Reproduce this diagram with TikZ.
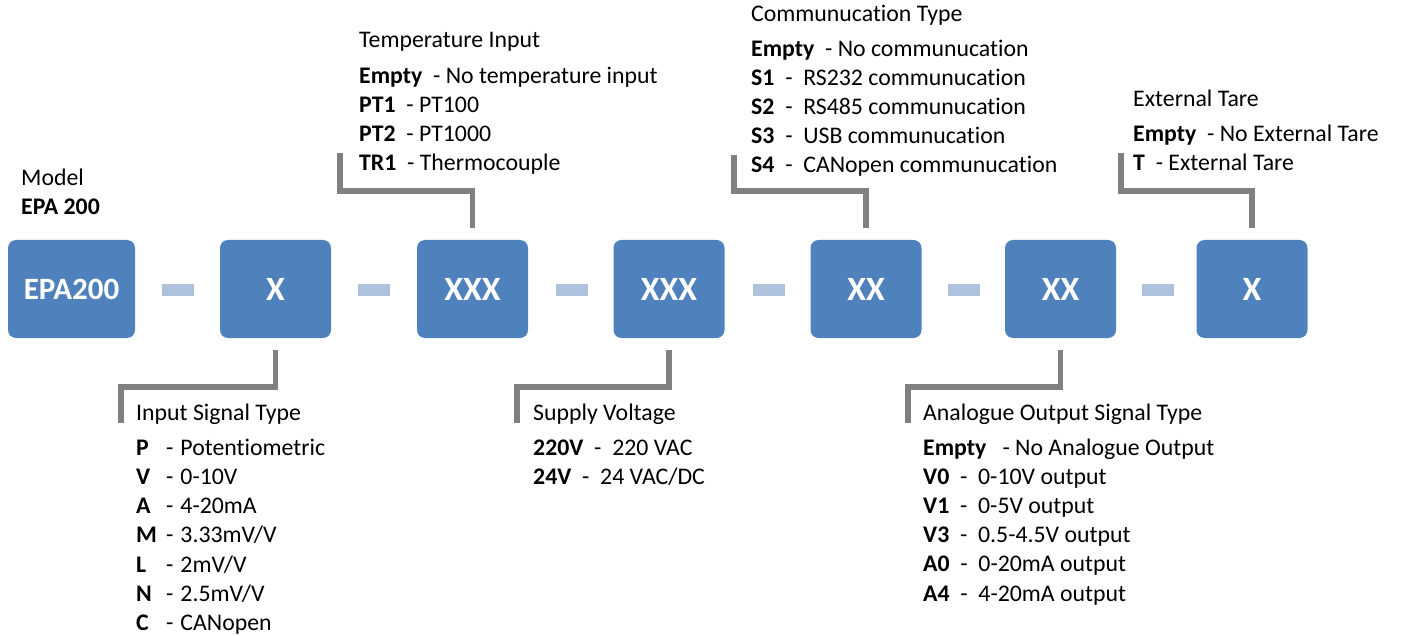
\documentclass[tikz,border=0pt]{standalone}
\usepackage{fontspec}
\setmainfont{Carlito}[RawFeature=-liga,RawFeature=-clig,RawFeature=-dlig,RawFeature=-calt]
\definecolor{boxblue}{HTML}{4F81BD}
\definecolor{dashblue}{HTML}{AFC2DD}
\definecolor{leadgrey}{HTML}{808080}
\tikzset{
    code box/.style={
        fill=boxblue,rounded corners=8pt,
        minimum width=111pt,minimum height=98pt,inner sep=0pt,
        text=white,font=\fontsize{34}{40}\selectfont\bfseries
    },
    code dash/.style={fill=dashblue,minimum width=32pt,minimum height=12pt,inner sep=0pt},
    leader/.style={draw=leadgrey,line width=5.5pt},
    desc/.style={anchor=base west,inner sep=0pt,font=\fontsize{23.8}{28.6}\selectfont}
}

\begin{document}
\begin{tikzpicture}[x=1pt,y=-1pt]
        \useasboundingbox (0,0) rectangle (1402,636);
        % order code boxes
        \node[code box,minimum width=127pt,font=\fontsize{31}{36}\selectfont\bfseries] (epa) at (71.5,289) {EPA200};
        \foreach \name/\x/\code in {sig/275.5/X,temp/472.5/XXX,supply/669/XXX,comm/866/XX,aout/1060.5/XX,tare/1252/X}
            \node[code box] (\name) at (\x,289) {\code};
        \foreach \x [count=\i] in {178,374,572,769,964,1158}
            \node[code dash] (dash\i) at (\x,290) {};
        % model
        \node[desc] (modelT) at (21,186) {Model};
        \node[desc] (model0) at (21,215) {\textbf{EPA 200}};
        % input signal type
        \node[desc] (sigT) at (136,420) {Input Signal Type};
        \foreach \k/\v [count=\i from 0] in {P/Potentiometric,V/0-10V,A/4-20mA,M/{3.33mV/V},L/{2mV/V},N/{2.5mV/V},C/CANopen}
            \node[desc] (sig\i) at (136,455+29.3*\i) {\makebox[30pt][l]{\textbf{\k}}-\hspace{7pt}\v};
        \coordinate (sigend) at (121,423);
        \draw[leader] ([yshift=-12pt]sig.south) -- ++(0,37) -| (sigend);
        % temperature input
        \node[desc] (tempT) at (359,48) {Temperature Input};
        \node[desc] (temp0) at (359,84) {\textbf{Empty}\ \ - No temperature input};
        \node[desc] (temp1) at (359,113) {\textbf{PT1}\ \ - PT100};
        \node[desc] (temp2) at (359,142) {\textbf{PT2}\ \ - PT1000};
        \node[desc] (temp3) at (359,171) {\textbf{TR1}\ \ - Thermocouple};
        \coordinate (tempend) at (340,153);
        \draw[leader] ([yshift=12pt]temp.north) -- ++(0,-37) -| (tempend);
        % supply voltage
        \node[desc] (supplyT) at (533,420) {Supply Voltage};
        \node[desc] (supply0) at (533,455) {\textbf{220V}\ \ -\ \ 220 VAC};
        \node[desc] (supply1) at (533,484) {\textbf{24V}\ \ -\ \ 24 VAC/DC};
        \coordinate (supplyend) at (517,423);
        \draw[leader] ([yshift=-12pt]supply.south) -- ++(0,37) -| (supplyend);
        % communication type
        \node[desc] (commT) at (751,22) {Communucation Type};
        \node[desc] (comm0) at (751,57) {\textbf{Empty}\ \ - No communucation};
        \foreach \k/\v [count=\i] in {S1/RS232,S2/RS485,S3/USB,S4/CANopen}
            \node[desc] (comm\i) at (751,57+29*\i) {\textbf{\k}\ \ -\ \ \v\ communucation};
        \coordinate (commend) at (734,155);
        \draw[leader] ([yshift=12pt]comm.north) -- ++(0,-37) -| (commend);
        % analogue output
        \node[desc] (aoutT) at (923,420) {Analogue Output Signal Type};
        \node[desc] (aout0) at (923,455) {\textbf{Empty}\ \ \ - No Analogue Output};
        \foreach \k/\v [count=\i] in {V0/0-10V,V1/0-5V,V3/0.5-4.5V,A0/0-20mA,A4/4-20mA}
            \node[desc] (aout\i) at (923,455+29.2*\i) {\textbf{\k}\ \ -\ \ \v\ output};
        \coordinate (aoutend) at (908,423);
        \draw[leader] ([yshift=-12pt]aout.south) -- ++(0,37) -| (aoutend);
        % external tare
        \node[desc] (tareT) at (1133,107) {External Tare};
        \node[desc] (tare0) at (1133,142) {\textbf{Empty}\ \ - No External Tare};
        \node[desc] (tare1) at (1133,171) {\textbf{T}\ \ - External Tare};
        \coordinate (tareend) at (1121,153);
        \draw[leader] ([yshift=12pt]tare.north) -- ++(0,-37) -| (tareend);
    \end{tikzpicture}
\end{document}
